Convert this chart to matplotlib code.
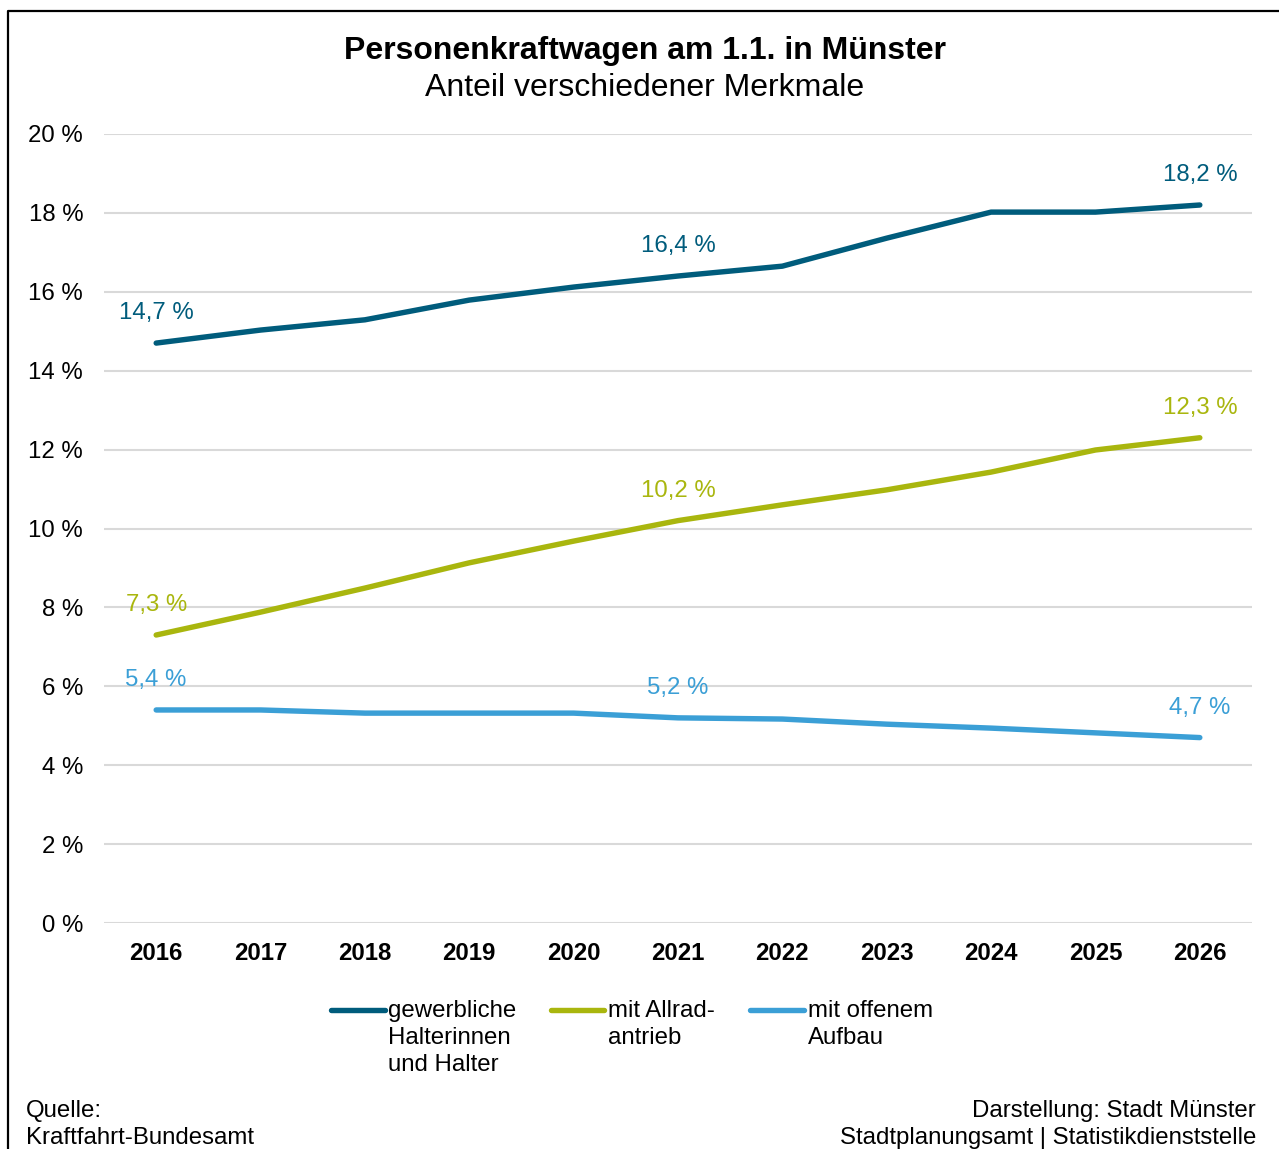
import matplotlib.pyplot as plt
from matplotlib.lines import Line2D

plt.rcParams['font.family'] = ['Liberation Sans', 'DejaVu Sans']

years = ['2016', '2017', '2018', '2019', '2020', '2021', '2022', '2023', '2024', '2025', '2026']
gewerblich = [14.7, 15.03, 15.29, 15.79, 16.12, 16.4, 16.65, 17.36, 18.02, 18.02, 18.2]
allrad = [7.3, 7.88, 8.49, 9.13, 9.68, 10.2, 10.6, 10.98, 11.43, 11.99, 12.3]
offen = [5.4, 5.40, 5.32, 5.32, 5.32, 5.2, 5.17, 5.04, 4.94, 4.82, 4.7]
labels = ['gewerbliche\nHalterinnen\nund Halter', 'mit Allrad-\nantrieb', 'mit offenem\nAufbau']
colors = ['#005c7c', '#a9b60e', '#3b9fd6']
label_idx = [0, 5, 10]

FS = 17.3
W, H = 1279, 1149
fig = plt.figure(figsize=(W / 100, H / 100), dpi=100)
ax = fig.add_axes([104 / W, 1 - 923 / H, (1252 - 104) / W, (923 - 134) / H])

x = range(len(years))
for vals, c in zip([gewerblich, allrad, offen], colors):
    ax.plot(x, vals, color=c, lw=3.9, solid_capstyle='round', zorder=3)
    for i in label_idx:
        txt = f"{vals[i]:.1f}".replace('.', ',') + " %"
        ax.annotate(txt, (i, vals[i]), xytext=(0, 21.5), textcoords='offset points',
                    ha='center', va='center', color=c, fontsize=FS, zorder=4)

ax.set_xlim(-0.5, len(years) - 0.5)
ax.set_ylim(0, 20)
ax.set_yticks(range(0, 21, 2))
ax.set_yticklabels([f"{v} %" for v in range(0, 21, 2)], fontsize=FS)
ax.set_xticks(list(x))
ax.set_xticklabels(years, fontsize=FS, fontweight='bold')
ax.tick_params(axis='y', length=0, pad=15)
ax.tick_params(axis='x', length=0, pad=13.5)
ax.grid(axis='y', color='#d9d9d9', lw=1.5)
ax.set_axisbelow(True)
for s in ax.spines.values():
    s.set_visible(False)

fig.text(645 / W, 1 - 51 / H, 'Personenkraftwagen am 1.1. in Münster', ha='center', va='center',
         fontsize=23, fontweight='bold')
fig.text(645 / W, 1 - 88 / H, 'Anteil verschiedener Merkmale', ha='center', va='center', fontsize=23)

# legend drawn by hand so the handle sits on the first text line
for (x0, x1, tx), lab, c in zip([(331, 385, 388), (551, 604, 608), (750, 804, 808)], labels, colors):
    fig.add_artist(Line2D([x0 / W, x1 / W], [1 - 1010 / H] * 2, color=c, lw=3.9,
                          solid_capstyle='round', transform=fig.transFigure))
    fig.text(tx / W, 1 - 1000 / H, lab, ha='left', va='top', fontsize=FS, linespacing=1.3)

fig.text(26 / W, 1 - 1100 / H, 'Quelle:\nKraftfahrt-Bundesamt', ha='left', va='top',
         fontsize=FS, linespacing=1.3)
fig.text(1256 / W, 1 - 1100 / H, 'Darstellung: Stadt Münster\nStadtplanungsamt | Statistikdienststelle',
         ha='right', va='top', multialignment='right', fontsize=FS, linespacing=1.3)

# frame (top and left edges visible)
fig.add_artist(Line2D([7.5 / W, 7.5 / W, 1], [0, 1 - 10.5 / H, 1 - 10.5 / H], color='black', lw=1.6,
                      transform=fig.transFigure))

fig.savefig('out.png', dpi=100)
